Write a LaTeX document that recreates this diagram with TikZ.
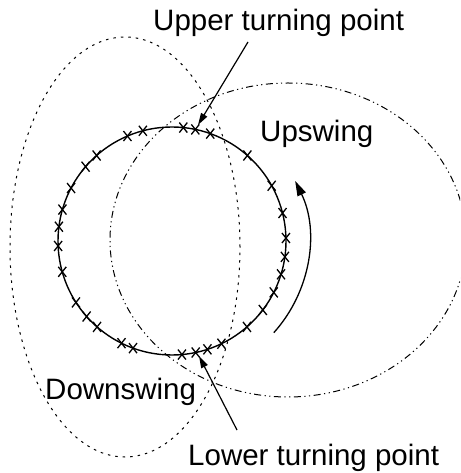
\documentclass[tikz,border=0pt]{standalone}
\usepackage{fontspec}
\setmainfont{Liberation Sans}
\usetikzlibrary{arrows.meta,positioning,calc}

\tikzset{
    lbl/.style={anchor=base west, inner sep=0pt, font=\fontsize{29.5}{35}\selectfont},
    ptr/.style={-{Triangle[length=12pt,width=7pt]}, line width=1.2pt},
    swingdot/.style={line width=1pt, dash pattern=on 2.5pt off 5pt},
    swingdash/.style={line width=1pt, dash pattern=on 7pt off 3.5pt on 1.2pt off 3.5pt on 1.2pt off 3.5pt}
}

\begin{document}
\begin{tikzpicture}[x=1pt, y=1pt]
    \useasboundingbox (0, 0) rectangle (460, 473);
    \clip (0, 0) rectangle (460, 473);

    % Swing loops
    \draw[swingdot] (125, 226) ellipse [x radius=115, y radius=210];
    \draw[swingdash] (288, 233) ellipse [x radius=178, y radius=157];

    % Orbit and sample points
    \draw[line width=1.4pt] (172, 232) circle [radius=114];
    \foreach \a in {113, 104.8, 84.3, 78.2, 70.4, 48.6, 29, 14.2, 1.5, -8, -17, -26.8,
                    -37.2, -48.9, -64.3, -71.9, -78, -85, 131.4, 139.3, 152.3, 164,
                    172.8, 182.5, 195.7, 212.6, 221.5, 228.9, 243.7, 250} {
        \draw[line width=1.3pt] ([shift={(172, 232)}]\a:114) +(-4, -5) -- +(4, 5)
                                                             +(-4, 5) -- +(4, -5);
    }

    % Direction of travel
    \draw[-{Triangle[length=15pt,width=9pt]}, line width=1.3pt]
        ([shift={(172, 232)}]-42:137) arc [start angle=-42, end angle=26, radius=137];

    % Labels
    \node[lbl] (upper) at (153, 442) {Upper turning point};
    \node[lbl] (upswing) at (260, 331) {Upswing};
    \node[lbl] (downswing) at (45, 73) {Downswing};
    \node[lbl] (lower) at (188, 8) {Lower turning point};

    % Turning point pointers
    \coordinate (upperfrom) at (248, 431);
    \coordinate (uppertip) at (198, 348);
    \coordinate (lowerfrom) at (237, 43);
    \coordinate (lowertip) at (199, 117);
    \draw[ptr] (upperfrom) -- (uppertip);
    \draw[ptr] (lowerfrom) -- (lowertip);
\end{tikzpicture}
\end{document}
